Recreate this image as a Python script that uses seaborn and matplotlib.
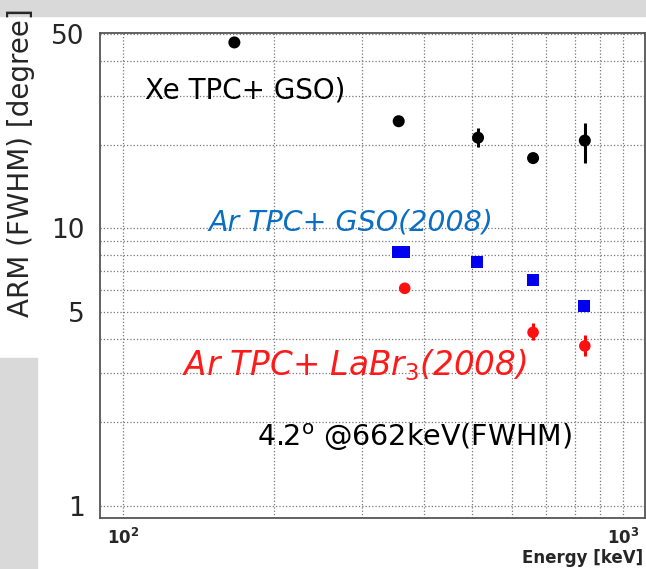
import numpy as np
import pandas as pd
import seaborn as sns
import matplotlib.pyplot as plt
from matplotlib.patches import Rectangle
from matplotlib.ticker import FixedLocator, NullFormatter

# Xe TPC + GSO
xe_energy = [167, 356, 513, 661, 839]
xe_arm = [46.7, 24.3, 21.2, 17.9, 20.7]
xe_err_lo = [0, 0, 1.5, 0, 3.5]
xe_err_hi = [0, 0, 1.7, 0, 3.3]

# Ar TPC + GSO (2008)
gso_energy = [356, 364, 511, 661, 836]
gso_arm = [8.2, 8.2, 7.55, 6.5, 5.24]

# Ar TPC + LaBr3 (2008)
labr_energy = [366, 661, 839]
labr_arm = [6.08, 4.22, 3.77]
labr_err_lo = [0, 0.27, 0.31]
labr_err_hi = [0, 0.33, 0.35]

sns.set_style('white')
plt.rcParams['font.family'] = ['DejaVu Sans']

fig = plt.figure(figsize=(6.46, 5.69), dpi=100)
# textured slide background bits
fig.patches.append(Rectangle((0, 0.972), 1, 0.028, transform=fig.transFigure,
                             color='#d9d9d9', zorder=0))
fig.patches.append(Rectangle((0, 0), 0.058, 0.37, transform=fig.transFigure,
                             color='#d9d9d9', zorder=0))
ax = fig.add_axes([0.155, 0.0896, 0.8435, 0.8524])

xe = pd.DataFrame({'E': xe_energy, 'ARM': xe_arm})
gso = pd.DataFrame({'E': gso_energy, 'ARM': gso_arm})
labr = pd.DataFrame({'E': labr_energy, 'ARM': labr_arm})

ax.errorbar(xe_energy, xe_arm, yerr=[xe_err_lo, xe_err_hi], fmt='none',
            ecolor='black', elinewidth=2.2, zorder=3)
ax.errorbar(labr_energy, labr_arm, yerr=[labr_err_lo, labr_err_hi], fmt='none',
            ecolor='red', elinewidth=2.2, zorder=3)
sns.scatterplot(data=xe, x='E', y='ARM', ax=ax, color='black', marker='o',
                s=75, edgecolor='none', zorder=4)
sns.scatterplot(data=gso, x='E', y='ARM', ax=ax, color='#0000ee', marker='s',
                s=80, edgecolor='none', zorder=4)
sns.scatterplot(data=labr, x='E', y='ARM', ax=ax, color='#ff1010', marker='o',
                s=70, edgecolor='none', zorder=4)

ax.set_xscale('log')
ax.set_yscale('log')
ax.set_xlim(90, 1107)
ax.set_ylim(0.905, 50.5)

ax.xaxis.set_major_locator(FixedLocator([100, 1000]))
ax.xaxis.set_minor_locator(FixedLocator([200, 300, 400, 500, 600, 700, 800, 900]))
ax.xaxis.set_minor_formatter(NullFormatter())
ax.set_xticklabels([r'$\mathbf{10^2}$', r'$\mathbf{10^3}$'], fontsize=12)

ax.yaxis.set_major_locator(FixedLocator([1, 5, 10, 50]))
ax.yaxis.set_minor_locator(FixedLocator([2, 3, 4, 6, 7, 8, 9, 20, 30, 40]))
ax.yaxis.set_minor_formatter(NullFormatter())
ax.set_yticklabels(['1', '5', '10', '50'], fontsize=19)

ax.tick_params(which='both', direction='in', color='#333333')
ax.tick_params(axis='y', which='major', length=12, width=1.2, pad=11)
ax.tick_params(axis='y', which='minor', length=8, width=1.2)
ax.tick_params(axis='x', which='major', length=12, width=1.2, pad=7)
ax.tick_params(axis='x', which='minor', length=8, width=1.2)

ax.grid(True, which='both', linestyle=':', color='#777777', linewidth=0.9)
for sp in ax.spines.values():
    sp.set_color('#555555')
    sp.set_linewidth(1.3)

ax.set_xlabel('')
ax.set_ylabel('')
fig.text(0.032, 0.715, 'ARM (FWHM) [degree]', rotation=90, fontsize=20,
         ha='center', va='center')
fig.text(0.995, 0.004, 'Energy [keV]', fontsize=12, fontweight='bold',
         ha='right', va='bottom')

ax.text(0.083, 0.882, 'Xe TPC+ GSO)', transform=ax.transAxes, fontsize=20,
        color='black', va='center')
ax.text(0.198, 0.61, 'Ar TPC+ GSO(2008)', transform=ax.transAxes, fontsize=20.5,
        color='#0a6fc2', style='italic', va='center')
ax.text(0.15, 0.316, r'Ar TPC+ LaBr$_3$(2008)', transform=ax.transAxes,
        fontsize=23.5, color='#ff1a1a', style='italic', va='center')
ax.text(0.288, 0.166, r'4.2$^{\rm o}$ @662keV(FWHM)', transform=ax.transAxes,
        fontsize=20.5, color='black', va='center')

fig.savefig('out.png', dpi=100)
